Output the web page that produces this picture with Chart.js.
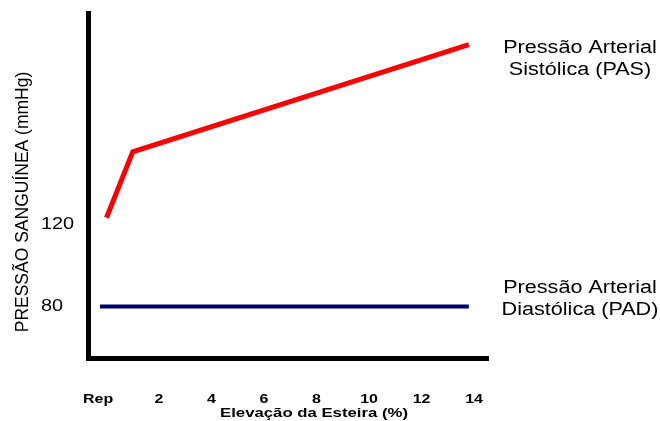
<!DOCTYPE html>
<html>
<head>
<meta charset="utf-8">
<script src="https://cdn.jsdelivr.net/npm/chart.js@4.4.1/dist/chart.umd.min.js"></script>
<style>
  html, body { margin: 0; padding: 0; background: #fff; }
  #wrap { width: 660px; height: 421px; }
</style>
</head>
<body>
<div id="wrap"><canvas id="bpChart" width="660" height="421"></canvas></div>
<script>
// --- dados ---
const xTickValues = [-0.32, 2, 4, 6, 8, 10, 12, 14];
const xTickLabels = ['Rep', '2', '4', '6', '8', '10', '12', '14'];
const yTickValues = [80, 120];
const yTickLabels = ['80', '120'];

const pasX = [0, 1, 13.8];
const pasY = [123, 155, 207];
const padX = [-0.25, 13.8];
const padY = [80, 80];

const yTitle = 'PRESSÃO SANGUÍNEA (mmHg)';
const xTitle = 'Elevação da Esteira (%)';
const pasLabel = ['Pressão Arterial', 'Sistólica (PAS)'];
const padLabel = ['Pressão Arterial', 'Diastólica (PAD)'];

const FONT = "'Liberation Sans', Arial, sans-serif";

// texto com leve esticamento horizontal (a figura original é mais larga)
function drawText(ctx, text, x, y, sx, align) {
    ctx.save();
    ctx.translate(x, y);
    ctx.scale(sx, 1);
    ctx.textAlign = align;
    ctx.fillText(text, 0, 0);
    ctx.restore();
}

// --- rótulos dos eixos, títulos e legendas das séries ---
const textPlugin = {
    id: 'textPlugin',
    afterDraw(chart) {
        const ctx = chart.ctx;
        const xs = chart.scales.x;
        const ys = chart.scales.y;
        ctx.save();
        ctx.fillStyle = '#000';
        ctx.textBaseline = 'middle';

        // ticks X
        ctx.font = 'bold 13px ' + FONT;
        xTickValues.forEach((v, i) => {
            drawText(ctx, xTickLabels[i], xs.getPixelForValue(v), 399, 1.23, 'center');
        });

        // ticks Y
        ctx.font = '17px ' + FONT;
        yTickValues.forEach((v, i) => {
            drawText(ctx, yTickLabels[i], 41, ys.getPixelForValue(v), 1.17, 'left');
        });

        // título X
        ctx.font = 'bold 13.5px ' + FONT;
        drawText(ctx, xTitle, 314, 413, 1.24, 'center');

        // título Y girado
        ctx.save();
        ctx.font = '17.5px ' + FONT;
        ctx.translate(23, 202);
        ctx.rotate(-Math.PI / 2);
        ctx.textAlign = 'center';
        ctx.fillText(yTitle, 0, 0);
        ctx.restore();

        // rótulos à direita
        ctx.font = '18px ' + FONT;
        drawText(ctx, pasLabel[0], 580, 48, 1.2, 'center');
        drawText(ctx, pasLabel[1], 580, 70, 1.2, 'center');
        drawText(ctx, padLabel[0], 580, 288, 1.2, 'center');
        drawText(ctx, padLabel[1], 580, 310, 1.2, 'center');
        ctx.restore();
    }
};

const ctx = document.getElementById('bpChart').getContext('2d');
const chart = new Chart(ctx, {
    type: 'line',
    data: {
        datasets: [
            {
                label: 'PAS',
                data: pasX.map((x, i) => ({ x: x, y: pasY[i] })),
                borderColor: '#ff0000',
                borderWidth: 5,
                pointRadius: 0,
                tension: 0,
                fill: false
            },
            {
                label: 'PAD',
                data: padX.map((x, i) => ({ x: x, y: padY[i] })),
                borderColor: '#000066',
                borderWidth: 4,
                pointRadius: 0,
                tension: 0,
                fill: false
            }
        ]
    },
    options: {
        responsive: false,
        animation: false,
        devicePixelRatio: 1,
        layout: { padding: { left: 41, top: 13, right: 172, bottom: 0 } },
        plugins: {
            legend: { display: false },
            tooltip: { enabled: false }
        },
        scales: {
            x: {
                type: 'linear',
                min: -0.705,
                max: 14.53,
                grid: { display: false, drawTicks: false },
                border: { display: true, width: 5, color: '#000' },
                afterBuildTicks: (s) => { s.ticks = xTickValues.map(v => ({ value: v })); },
                afterFit: (s) => { s.height = 63; },
                ticks: { display: false }
            },
            y: {
                type: 'linear',
                min: 55,
                max: 222.3,
                grid: { display: false, drawTicks: false },
                border: { display: true, width: 5, color: '#000' },
                afterBuildTicks: (s) => { s.ticks = yTickValues.map(v => ({ value: v })); },
                afterFit: (s) => { s.width = 47; },
                ticks: { display: false }
            }
        }
    },
    plugins: [textPlugin]
});
</script>
</body>
</html>
